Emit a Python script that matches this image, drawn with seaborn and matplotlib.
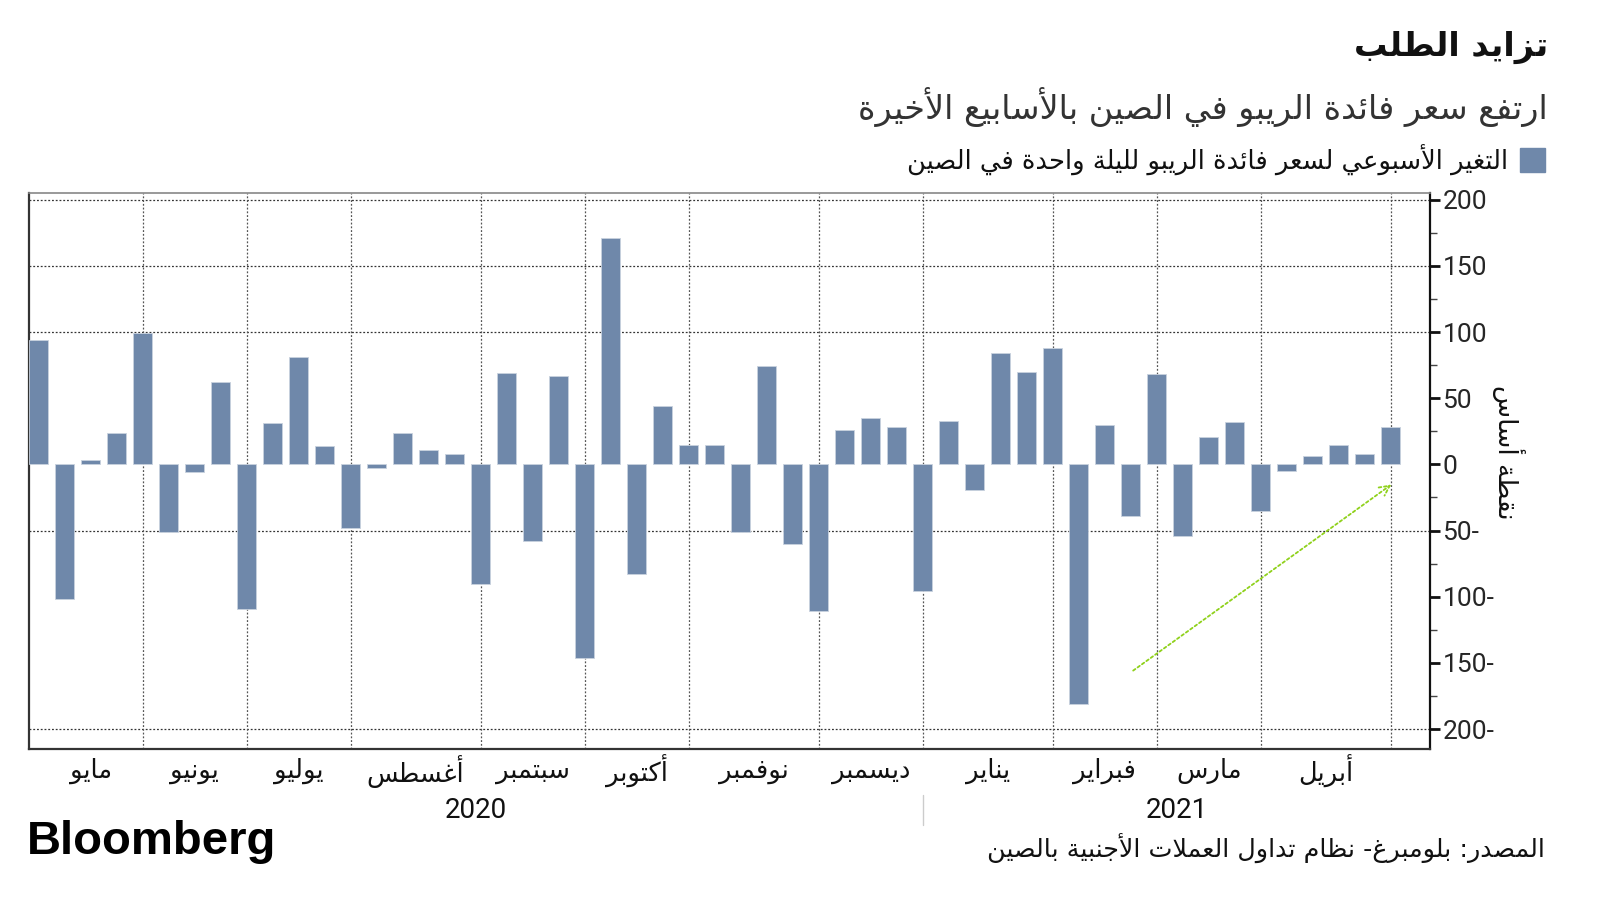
import numpy as np
import pandas as pd
import matplotlib
matplotlib.use("Agg")
import matplotlib.pyplot as plt
import matplotlib.transforms as mtrans
import seaborn as sns

# Data: weekly change of China overnight repo rate (bps), May 2020 - Apr 2021
changes = [94, -102, 3, 24, 99, -51, -6, 62, -109, 31, 81, 14,
           -48, -3, 24, 11, 8, -90, 69, -58, 67, -146, 171, -83,
           44, 15, 15, -51, 74, -60, -111, 26, 35, 28, -96, 33,
           -19, 84, 70, 88, -181, 30, -39, 68, -54, 21, 32, -35,
           -5, 6, 15, 8, 28]
months = ["مايو", "يونيو", "يوليو", "أغسطس", "سبتمبر", "أكتوبر",
          "نوفمبر", "ديسمبر", "يناير", "فبراير", "مارس", "أبريل"]
month_start = [0, 4, 8, 12, 17, 21, 25, 30, 34, 39, 43, 47, 52]
years = ["2020", "2021"]
year_start = 34
yticks = [200, 150, 100, 50, 0, -50, -100, -150, -200]
ytick_labels = ["200", "150", "100", "50", "0", "50-", "100-", "150-", "200-"]
grid_y = [200, 150, 100, -50, -200]

title = "تزايد الطلب"
subtitle = "ارتفع سعر فائدة الريبو في الصين بالأسابيع الأخيرة"
legend_txt = "التغير الأسبوعي لسعر فائدة الريبو لليلة واحدة في الصين"
ylabel = "نقطة أساس"
source = "المصدر: بلومبرغ- نظام تداول العملات الأجنبية بالصين"

BAR = "#6f88aa"

# minimal arabic shaping (presentation forms, visual order)
AR_LETTERS = "ءآأؤإئابةتثجحخدذرزسشصضطظعغفقكلمنهوىي"
AR_NFORMS = [1, 2, 2, 2, 2, 4, 2, 4, 2, 4, 4, 4, 4, 4, 2, 2, 2, 2,
             4, 4, 4, 4, 4, 4, 4, 4, 4, 4, 4, 4, 4, 4, 4, 2, 2, 4]


def shape(text):
    forms = {}
    code = 0xFE80
    for ch, n in zip(AR_LETTERS, AR_NFORMS):
        forms[ch] = (code, n)
        code += n
    lam_alef = {"آ": 0xFEF5, "أ": 0xFEF7, "إ": 0xFEF9, "ا": 0xFEFB}
    tokens = []
    i = 0
    while i < len(text):
        if text[i] == "ل" and text[i + 1:i + 2] in lam_alef:
            tokens.append((lam_alef[text[i + 1]], 2))
            i += 2
        else:
            tokens.append(forms.get(text[i], text[i]))
            i += 1
    out = []
    for k, t in enumerate(tokens):
        if isinstance(t, str):
            out.append(t)
            continue
        base, n = t
        prev = tokens[k - 1] if k > 0 else None
        nxt = tokens[k + 1] if k + 1 < len(tokens) else None
        jp = n > 1 and isinstance(prev, tuple) and prev[1] == 4
        jn = n == 4 and isinstance(nxt, tuple) and nxt[1] > 1
        idx = 3 if (jp and jn) else 1 if jp else 2 if jn else 0
        out.append(chr(base + idx))
    return "".join(reversed(out))


sns.set_style("white")
plt.rcParams['font.family'] = ['DejaVu Sans']

df = pd.DataFrame({"week": np.arange(len(changes)), "change": changes})

fig = plt.figure(figsize=(16, 9), dpi=100)
ax = fig.add_axes([29 / 1600, 151 / 900, 1401 / 1600, 556 / 900])

sns.barplot(data=df, x="week", y="change", color=BAR, width=0.73,
            edgecolor="#c9d2de", linewidth=0.6, saturation=1, ax=ax, zorder=3)

ax.set_xlim(-0.37, 53.5)
ax.set_ylim(-215, 205)

for g in grid_y:
    ax.axhline(g, color="#333333", lw=0.9, ls=(0, (1.5, 1.5)), zorder=1)
for m in month_start[1:]:
    ax.axvline(m, color="#555555", lw=0.9, ls=(0, (1.5, 1.5)), zorder=1)

# y axis on the right
ax.yaxis.tick_right()
ax.set_yticks(yticks)
ax.set_yticklabels(ytick_labels, fontsize=19, family="Roboto")
ax.set_yticks(np.arange(-175, 200, 50), minor=True)
ax.tick_params(axis="y", which="major", direction="out", length=7, width=2,
               color="#111111", pad=2)
ax.tick_params(axis="y", which="minor", direction="out", length=5, width=1,
               color="#444444")
ax.set_ylabel("")
ax.set_xlabel("")

ax.set_xticks(month_start[1:])
ax.set_xticklabels([])
ax.tick_params(axis="x", direction="out", length=9, width=0.8, color="#777777")

for side in ["left", "bottom", "right"]:
    ax.spines[side].set_color("#333333")
    ax.spines[side].set_linewidth(1.6)
ax.spines["top"].set_color("#888888")
ax.spines["top"].set_linewidth(1.2)
ax.spines["right"].set_color("#111111")

trans = mtrans.blended_transform_factory(ax.transData, ax.transAxes)
bounds = [0] + month_start[1:]
for i, name in enumerate(months):
    mid = (bounds[i] + bounds[i + 1]) / 2
    ax.text(mid, -0.04, shape(name), transform=trans, ha="center", va="center",
            fontsize=18.5, color="#111111")
ax.text((-0.37 + year_start) / 2, -0.11, years[0], transform=trans,
        ha="center", va="center", fontsize=20, family="Roboto", color="#111111")
ax.text((year_start + 53.5) / 2, -0.11, years[1], transform=trans,
        ha="center", va="center", fontsize=20, family="Roboto", color="#111111")
ax.plot([year_start, year_start], [-0.083, -0.137], transform=trans,
        color="#cccccc", lw=1, clip_on=False)

# green arrow
ax.annotate("", xy=(52.1, -14), xytext=(42.0, -157),
            arrowprops=dict(arrowstyle="->", color="#8fd11b", lw=1.3,
                            linestyle=(0, (1.5, 1.5)), mutation_scale=18),
            zorder=4)

# texts
fig.text(1548 / 1600, 1 - 47 / 900, shape(title), ha="right", va="center",
         fontsize=24, fontweight="bold", color="#111111")
fig.text(1548 / 1600, 1 - 107 / 900, shape(subtitle), ha="right", va="center",
         fontsize=24, color="#333333")
fig.text(1508 / 1600, 1 - 160 / 900, shape(legend_txt), ha="right", va="center",
         fontsize=18.5, color="#111111")
fig.patches.append(plt.Rectangle((1520 / 1600, 1 - 172 / 900), 25 / 1600, 24 / 900,
                                 transform=fig.transFigure, color=BAR))
fig.text(1508 / 1600, 1 - 452 / 900, shape(ylabel), ha="center", va="center",
         rotation=270, fontsize=19, color="#111111")
fig.text(1545 / 1600, 1 - 848 / 900, shape(source), ha="right", va="center",
         fontsize=18.3, color="#111111")
fig.text(27 / 1600, 1 - 842 / 900, "Bloomberg", ha="left", va="center",
         fontsize=34, fontweight="bold", family="Liberation Sans", color="#000000")

fig.savefig("out.png", dpi=100)
